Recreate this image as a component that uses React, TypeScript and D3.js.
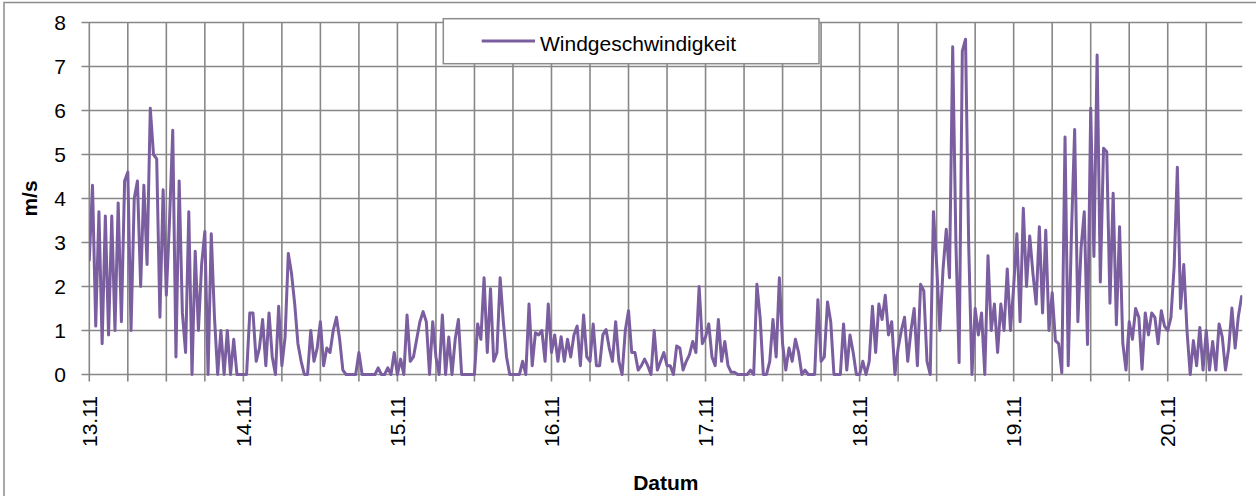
import React from "react";
import * as d3 from "d3";

// Wind speed (m/s), 30-minute samples, one array per day
const day13 = [2.6, 4.3, 1.1, 3.7, 0.7, 3.6, 0.9, 3.6, 1.0, 3.9, 1.2, 4.4, 4.6, 1.0, 4.0, 4.4, 2.0, 4.3, 2.5, 6.05, 5.0, 4.9, 1.3, 4.2, 1.8, 3.5, 5.55, 0.4, 4.4, 1.4, 0.5, 3.7, 0.0, 2.8, 1.0, 2.5, 3.25, 0.0, 3.2, 1.3, 0.0, 1.0, 0.0, 1.0, 0.0, 0.8, 0.0, 0.0];
const day14 = [0.0, 0.0, 1.4, 1.4, 0.3, 0.6, 1.25, 0.2, 1.4, 0.4, 0.0, 1.55, 0.2, 0.85, 2.75, 2.3, 1.6, 0.7, 0.3, 0.0, 0.0, 1.0, 0.3, 0.6, 1.2, 0.2, 0.6, 0.5, 1.0, 1.3, 0.8, 0.1, 0.0, 0.0, 0.0, 0.0, 0.5, 0.0, 0.0, 0.0, 0.0, 0.0, 0.15, 0.0, 0.0, 0.15, 0.0, 0.5];
const day15 = [0.0, 0.35, 0.0, 1.35, 0.3, 0.4, 0.8, 1.2, 1.43, 1.2, 0.0, 1.2, 0.4, 0.0, 1.35, 0.0, 0.85, 0.0, 0.8, 1.25, 0.0, 0.0, 0.0, 0.0, 0.0, 1.15, 0.8, 2.2, 0.5, 1.95, 0.3, 0.5, 2.2, 1.2, 0.4, 0.0, 0.0, 0.0, 0.0, 0.3, 0.0, 1.6, 0.2, 0.95, 0.9, 1.0, 0.3, 1.6];
const day16 = [0.5, 0.9, 0.3, 0.86, 0.3, 0.8, 0.4, 0.9, 1.1, 0.2, 1.35, 0.4, 0.3, 1.15, 0.2, 0.2, 0.9, 1.02, 0.6, 0.3, 1.2, 0.3, 0.0, 1.0, 1.45, 0.5, 0.5, 0.1, 0.2, 0.35, 0.2, 0.0, 1.0, 0.1, 0.3, 0.5, 0.2, 0.2, 0.0, 0.65, 0.6, 0.1, 0.3, 0.45, 0.75, 0.5, 2.0, 0.7];
const day17 = [0.85, 1.15, 0.4, 0.2, 1.25, 0.3, 0.75, 0.2, 0.05, 0.05, 0.0, 0.0, 0.0, 0.0, 0.1, 0.0, 2.05, 1.3, 0.0, 0.0, 0.3, 1.25, 0.4, 2.2, 0.7, 0.1, 0.6, 0.3, 0.8, 0.5, 0.0, 0.1, 0.0, 0.0, 0.0, 1.7, 0.3, 0.4, 1.65, 1.2, 0.0, 0.0, 0.0, 1.15, 0.1, 0.9, 0.5, 0.0];
const day18 = [0.0, 0.3, 0.0, 0.3, 1.55, 0.5, 1.6, 1.25, 1.8, 0.9, 1.2, 0.0, 0.6, 1.0, 1.3, 0.3, 1.0, 1.5, 0.2, 2.05, 1.9, 0.3, 0.0, 3.7, 2.5, 1.0, 2.4, 3.3, 2.2, 7.45, 3.0, 0.27, 7.35, 7.62, 2.9, 0.0, 1.5, 0.9, 1.4, 0.0, 2.7, 1.0, 1.6, 0.5, 1.6, 1.0, 2.4, 1.0];
const day19 = [2.0, 3.2, 1.2, 3.78, 2.0, 3.15, 2.3, 1.6, 3.36, 1.4, 3.28, 1.0, 1.86, 0.77, 0.7, 0.04, 5.4, 0.2, 3.2, 5.57, 1.2, 2.88, 3.7, 0.68, 6.05, 2.68, 7.26, 2.1, 5.14, 5.06, 1.62, 4.12, 1.13, 3.36, 0.71, 0.1, 1.2, 0.8, 1.5, 1.3, 0.12, 1.4, 0.9, 1.4, 1.3, 0.7, 1.45, 1.1];
const day20 = [1.0, 1.3, 2.46, 4.71, 1.5, 2.5, 1.0, 0.0, 0.77, 0.2, 1.07, 0.1, 1.0, 0.1, 0.75, 0.1, 1.15, 0.85, 0.1, 0.6, 1.51, 0.6, 1.32, 1.77];

const dayLabels = ["13.11", "14.11", "15.11", "16.11", "17.11", "18.11", "19.11", "20.11"];
const yTicks = [0, 1, 2, 3, 4, 5, 6, 7, 8];
const seriesName = "Windgeschwindigkeit";
const samplesPerDay = 48;

const speeds: number[] = [...day13, ...day14, ...day15, ...day16, ...day17, ...day18, ...day19, ...day20];

export default function App() {
  const W = 1256, H = 496;
  const x = d3.scaleLinear().domain([0, 7.484]).range([89.3, 1242.3]);
  const y = d3.scaleLinear().domain([0, 8]).range([374.5, 22.5]);
  const grid = "#878787";
  const font = "Arial, 'Liberation Sans', sans-serif";
  const purple = "#7a5e9f";

  const quarterDays: number[] = [];
  for (let q = 0; q <= 7.484 * 4; q++) quarterDays.push(q / 4);

  const line = d3.line<number>()
    .x((_, i) => x(i / samplesPerDay))
    .y((v) => y(v));

  return (
    <svg width={W} height={H} style={{ position: "absolute", left: 0, top: 0, display: "block" }} fontFamily={font}>
      <rect x={0} y={0} width={W} height={H} fill="#fff" />
      <rect x={4} y={2.5} width={W + 20} height={H + 20} fill="none" stroke="#8c8c8c" strokeWidth={1.5} />
      {yTicks.map((t) => (
        <line key={"h" + t} x1={81.5} x2={1242.3} y1={y(t)} y2={y(t)} stroke={grid} strokeWidth={1.6} />
      ))}
      {quarterDays.map((d) => (
        <line key={"v" + d} x1={x(d)} x2={x(d)} y1={y(8)} y2={381.5} stroke={grid} strokeWidth={1.6} />
      ))}
      {yTicks.map((t) => (
        <text key={"yl" + t} x={66} y={y(t)} dy="0.36em" textAnchor="end" fontSize={21} fill="#000">{t}</text>
      ))}
      {dayLabels.map((lab, i) => (
        <text key={"xl" + lab} transform={`translate(${x(i)},396) rotate(-90)`} dy="0.36em" textAnchor="end" fontSize={21} fill="#000">{lab}</text>
      ))}
      <defs>
        <clipPath id="plotclip">
          <rect x={89.3} y={0} width={1242.3 - 89.3} height={378} />
        </clipPath>
      </defs>
      <path d={line(speeds) || ""} fill="none" stroke={purple} strokeWidth={3} strokeLinejoin="round" strokeLinecap="round" clipPath="url(#plotclip)" />
      <text transform={`translate(37,${(y(0) + y(8)) / 2}) rotate(-90)`} textAnchor="middle" fontSize={21} fontWeight="bold" fill="#000">m/s</text>
      <text x={(x(0) + x(7.484)) / 2} y={490} textAnchor="middle" fontSize={21} fontWeight="bold" fill="#000">Datum</text>
      <rect x={443.3} y={18.7} width={819 - 443.3} height={45} fill="#fff" stroke="#8c8c8c" strokeWidth={1.5} />
      <line x1={481.7} x2={535} y1={41} y2={41} stroke={purple} strokeWidth={3} />
      <text x={540} y={50.5} fontSize={21} fill="#000">{seriesName}</text>
    </svg>
  );
}
